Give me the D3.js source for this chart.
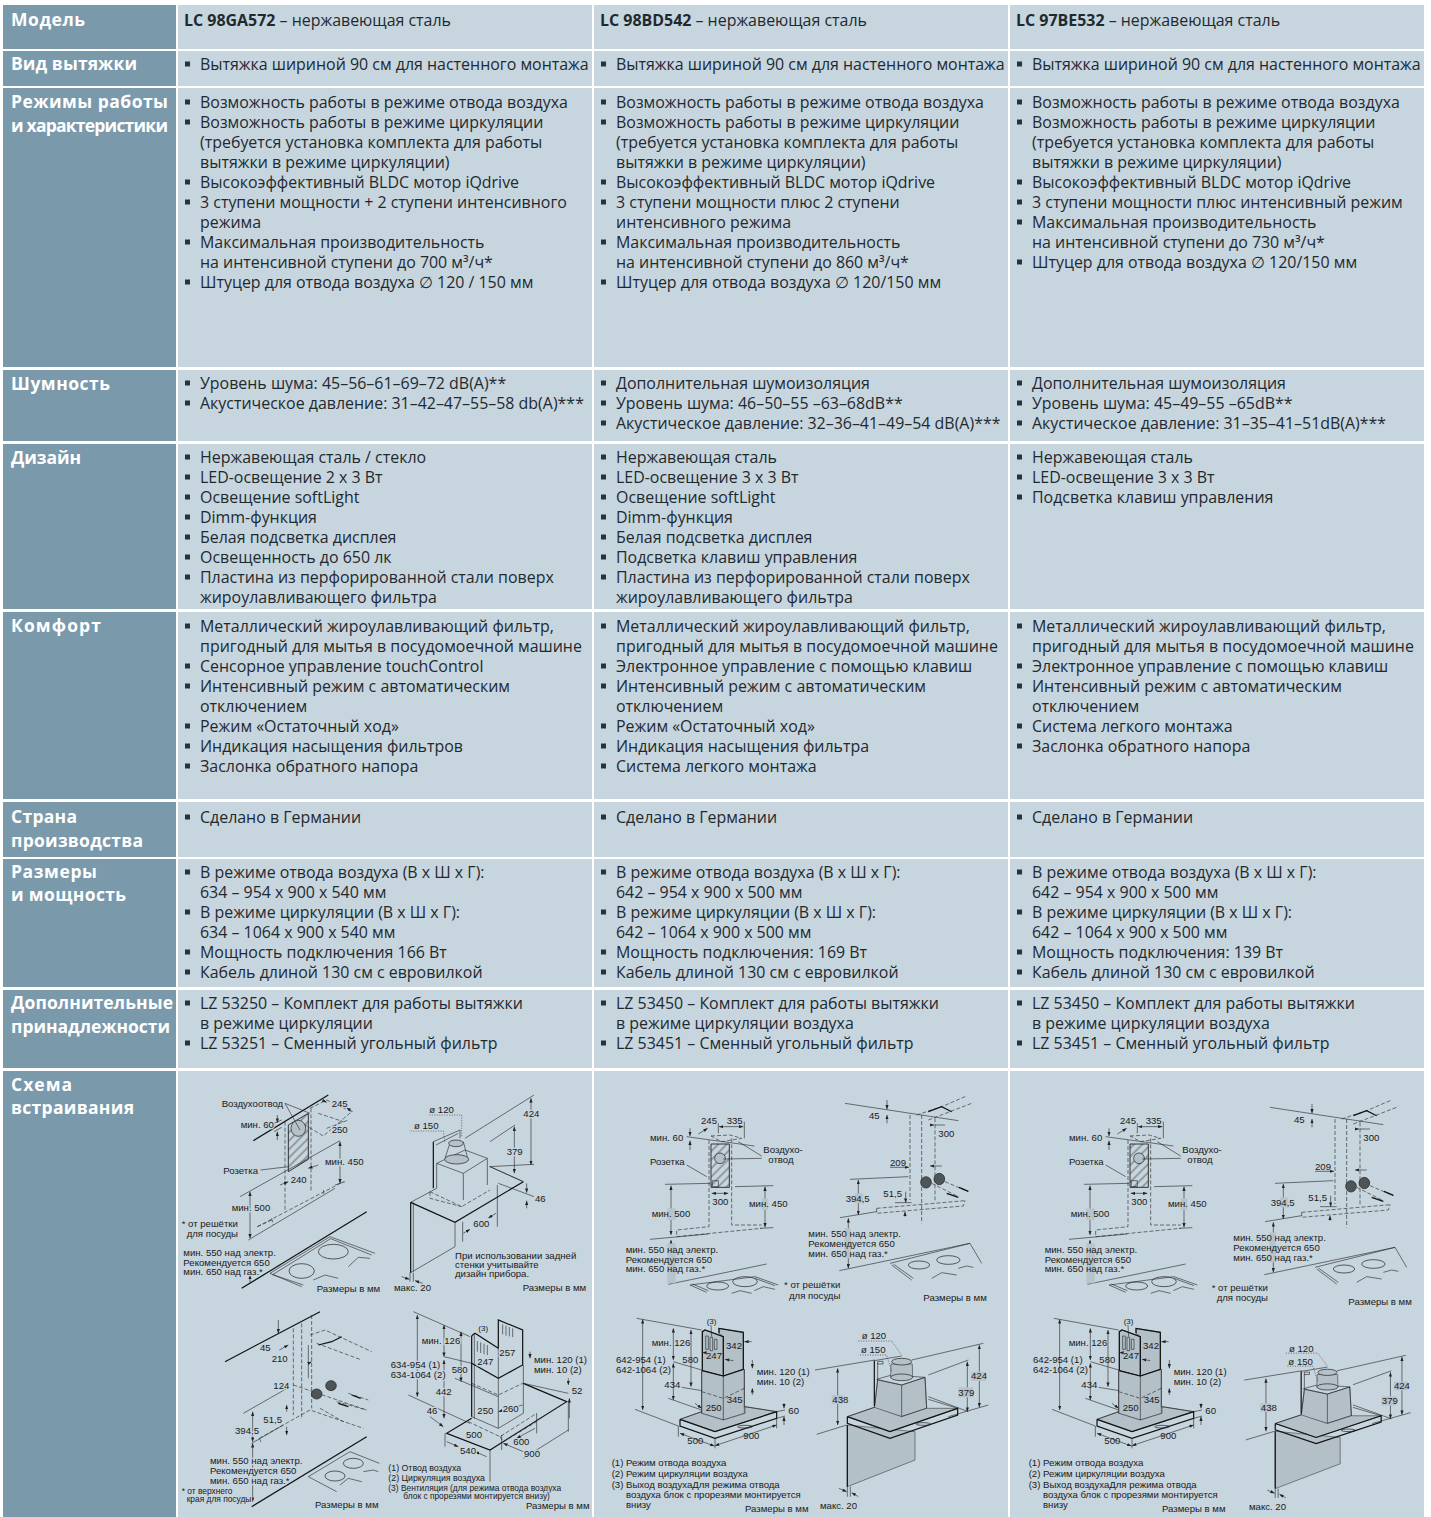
<!DOCTYPE html>
<html>
<head>
<meta charset="utf-8">
<script src="https://cdnjs.cloudflare.com/ajax/libs/d3/7.8.5/d3.min.js"></script>
<style>
  html, body { margin: 0; padding: 0; background: #fff; }
  svg { display: block; }
  .cell { font-family: "Open Sans", sans-serif; font-size: 15.95px; fill: #1e2a30; }
  .label { font-family: "Open Sans", sans-serif; font-size: 17.5px; font-weight: 700; fill: #fff; }
  .dia { font-family: "Liberation Sans", sans-serif; font-size: 9.6px; fill: #1a1a1a; }
</style>
</head>
<body>
<div id="chart"></div>
<script>
const rowLabels = [
  ['Модель'], ['Вид вытяжки'], ['Режимы работы', 'и характеристики'], ['Шумность'], ['Дизайн'],
  ['Комфорт'], ['Страна', 'производства'], ['Размеры', 'и мощность'],
  ['Дополнительные', 'принадлежности'], ['Схема', 'встраивания']
];
const models = ['LC 98GA572', 'LC 98BD542', 'LC 97BE532'];
const modelFinish = ' – нержавеющая сталь';

// "- " at the start of a line means it gets a bullet
const col1Rows = [
  ['- Вытяжка шириной 90 см для настенного монтажа'],
  ['- Возможность работы в режиме отвода воздуха', '- Возможность работы в режиме циркуляции', '(требуется установка комплекта для работы', 'вытяжки в режиме циркуляции)', '- Высокоэффективный BLDC мотор iQdrive', '- 3 ступени мощности + 2 ступени интенсивного', 'режима', '- Максимальная производительность', 'на интенсивной ступени до 700 м³/ч*', '- Штуцер для отвода воздуха ∅ 120 / 150 мм'],
  ['- Уровень шума: 45–56–61–69–72 dB(A)**', '- Акустическое давление: 31–42–47–55–58 db(A)***'],
  ['- Нержавеющая сталь / стекло', '- LED-освещение 2 x 3 Вт', '- Освещение softLight', '- Dimm-функция', '- Белая подсветка дисплея', '- Освещенность до 650 лк', '- Пластина из перфорированной стали поверх', 'жироулавливающего фильтра'],
  ['- Металлический жироулавливающий фильтр,', 'пригодный для мытья в посудомоечной машине', '- Сенсорное управление touchControl', '- Интенсивный режим с автоматическим', 'отключением', '- Режим «Остаточный ход»', '- Индикация насыщения фильтров', '- Заслонка обратного напора'],
  ['- Сделано в Германии'],
  ['- В режиме отвода воздуха (В x Ш x Г):', '634 – 954 x 900 x 540 мм', '- В режиме циркуляции (В x Ш x Г):', '634 – 1064 x 900 x 540 мм', '- Мощность подключения 166 Вт', '- Кабель длиной 130 см с евровилкой'],
  ['- LZ 53250 – Комплект для работы вытяжки', 'в режиме циркуляции', '- LZ 53251 – Сменный угольный фильтр']
];
const col2Rows = [
  ['- Вытяжка шириной 90 см для настенного монтажа'],
  ['- Возможность работы в режиме отвода воздуха', '- Возможность работы в режиме циркуляции', '(требуется установка комплекта для работы', 'вытяжки в режиме циркуляции)', '- Высокоэффективный BLDC мотор iQdrive', '- 3 ступени мощности плюс 2 ступени', 'интенсивного режима', '- Максимальная производительность', 'на интенсивной ступени до 860 м³/ч*', '- Штуцер для отвода воздуха ∅ 120/150 мм'],
  ['- Дополнительная шумоизоляция', '- Уровень шума: 46–50–55 –63–68dB**', '- Акустическое давление: 32–36–41–49–54 dB(A)***'],
  ['- Нержавеющая сталь', '- LED-освещение 3 x 3 Вт', '- Освещение softLight', '- Dimm-функция', '- Белая подсветка дисплея', '- Подсветка клавиш управления', '- Пластина из перфорированной стали поверх', 'жироулавливающего фильтра'],
  ['- Металлический жироулавливающий фильтр,', 'пригодный для мытья в посудомоечной машине', '- Электронное управление с помощью клавиш', '- Интенсивный режим с автоматическим', 'отключением', '- Режим «Остаточный ход»', '- Индикация насыщения фильтра', '- Система легкого монтажа'],
  ['- Сделано в Германии'],
  ['- В режиме отвода воздуха (В x Ш x Г):', '642 – 954 x 900 x 500 мм', '- В режиме циркуляции (В x Ш x Г):', '642 – 1064 x 900 x 500 мм', '- Мощность подключения: 169 Вт', '- Кабель длиной 130 см с евровилкой'],
  ['- LZ 53450 – Комплект для работы вытяжки', 'в режиме циркуляции воздуха', '- LZ 53451 – Сменный угольный фильтр']
];
const col3Rows = [
  ['- Вытяжка шириной 90 см для настенного монтажа'],
  ['- Возможность работы в режиме отвода воздуха', '- Возможность работы в режиме циркуляции', '(требуется установка комплекта для работы', 'вытяжки в режиме циркуляции)', '- Высокоэффективный BLDC мотор iQdrive', '- 3 ступени мощности плюс интенсивный режим', '- Максимальная производительность', 'на интенсивной ступени до 730 м³/ч*', '- Штуцер для отвода воздуха ∅ 120/150 мм'],
  ['- Дополнительная шумоизоляция', '- Уровень шума: 45–49–55 –65dB**', '- Акустическое давление: 31–35–41–51dB(A)***'],
  ['- Нержавеющая сталь', '- LED-освещение 3 x 3 Вт', '- Подсветка клавиш управления'],
  ['- Металлический жироулавливающий фильтр,', 'пригодный для мытья в посудомоечной машине', '- Электронное управление с помощью клавиш', '- Интенсивный режим с автоматическим', 'отключением', '- Система легкого монтажа', '- Заслонка обратного напора'],
  ['- Сделано в Германии'],
  ['- В режиме отвода воздуха (В x Ш x Г):', '642 – 954 x 900 x 500 мм', '- В режиме циркуляции (В x Ш x Г):', '642 – 1064 x 900 x 500 мм', '- Мощность подключения: 139 Вт', '- Кабель длиной 130 см с евровилкой'],
  ['- LZ 53450 – Комплект для работы вытяжки', 'в режиме циркуляции воздуха', '- LZ 53451 – Сменный угольный фильтр']
];

// installation drawings: [kind, "x,y x,y ..."] at 3x
// s thin, t thick, d dashed, a arrows both ends, e arrow at end, g grey fill, h hatched, o ellipse "cx,cy rx,ry", c filled ellipse, b dark blob, p pale patch, v dotted
const draw1TL = [
  ['h','355,165 415,130 415,268 355,305 355,165'], ['c','385,175 22,24'],
  ['t','250,212 475,75'], ['d','345,155 345,420'], ['d','423,115 423,365'],
  ['d','420,115 470,90 545,125 460,198 405,165'], ['d','445,130 520,155'], ['d','470,175 535,150'],
  ['e','322,135 322,158'], ['e','322,210 322,185'], ['s','312,160 335,150'], ['s','312,185 335,172'],
  ['e','455,90 470,97'], ['e','548,125 530,113'], ['s','345,100 390,180'], ['s','345,100 420,130'],
  ['s','272,300 355,290'], ['s','210,380 510,212'], ['a','510,215 510,340'], ['s','495,345 525,335'],
  ['e','330,345 355,335'], ['e','445,285 415,295'], ['s','345,335 345,345'],
  ['d','262,470 520,335'], ['d','262,470 310,448'], ['d','305,445 310,465'], ['d','460,360 462,375'],
  ['s','235,510 495,355'], ['a','240,365 240,505'], ['t','215,655 590,425'], ['e','240,640 240,615'],
  ['s','300,610 480,500 615,550'], ['s','308,614 482,506 605,555'], ['s','300,610 395,650'], ['s','308,614 400,645'],
  ['o','490,545 45,22'], ['o','395,603 38,22'], ['s','535,590 565,562 600,565'], ['s','430,630 465,615 505,625']
];
const text1TL = [
  ['Воздухоотвод',155,102], ['мин. 60',212,165], ['245',485,102], ['250',485,180], ['Розетка',160,303],
  ['мин. 450',465,275], ['240',362,328], ['мин. 500',185,412], ['* от решётки',35,460], ['для посуды',50,490],
  ['мин. 550 над электр.',40,548], ['Рекомендуется 650',40,578], ['мин. 650 над газ.*',40,605], ['Размеры в мм',440,655]
];
const draw1TR = [
  ['s','885,205 1092,75'], ['s','958,290 1092,283'], ['a','1083,85 1083,285'], ['s','960,215 1035,165'],
  ['a','1033,170 1033,310'], ['s','960,290 1060,335'], ['s','985,340 1092,380'],
  ['s','790,215 870,180 870,205'], ['t','790,215 790,355'], ['s','798,225 865,190'],
  ['s','800,280 885,240 952,265 880,310 800,280'], ['s','880,310 880,390'], ['s','952,265 952,345'], ['s','800,280 800,355'],
  ['s','825,265 838,225'], ['s','893,265 880,215'], ['c','860,268 36,14'], ['c','858,220 22,10'], ['v','778,135 875,135 875,200'], ['v','722,183 820,183 825,220'],
  ['t','722,397 855,457 1060,335'], ['s','722,397 800,355'], ['s','960,290 1060,335'], ['d','780,365 875,410 960,360'], ['d','780,365 780,385 875,410'],
  ['t','722,397 722,608'], ['s','730,397 730,605'], ['s','722,608 855,530 855,457'],
  ['e','695,620 718,628'], ['e','758,640 735,632'], ['s','720,608 720,635'], ['s','730,608 730,635'],
  ['e','880,490 900,478'], ['e','978,430 955,444'], ['s','878,455 878,515'], ['s','982,345 982,470'],
  ['e','1070,340 1070,368'], ['e','1070,415 1070,392']
];
const text1TR = [
  ['ø 120',778,120], ['ø 150',732,167], ['424',1060,132], ['379',1010,245], ['46',1095,387], ['600',910,462],
  ['При использовании задней',855,557], ['стенки учитывайте',855,585], ['дизайн прибора.',855,612], ['макс. 20',672,652], ['Размеры в мм',1058,652]
];
const draw1BL = [
  ['t','165,200 450,50'], ['d','370,100 370,360'], ['d','395,85 395,370'], ['d','425,60 425,340'],
  ['e','325,75 325,115'], ['e','328,165 355,150'], ['e','415,205 425,200'], ['s','415,150 415,250'],
  ['s','220,355 360,275'], ['a','248,350 248,440'], ['a','248,445 248,620'], ['s','245,445 340,390'],
  ['d','268,430 420,345 580,400'], ['d','268,430 275,445'], ['d','420,120 465,105 605,170'], ['d','440,145 575,195'], ['d','370,270 590,345'],
  ['d','500,320 590,345'], ['d','535,295 595,315'], ['d','450,340 520,380'], ['t','545,300 572,310'], ['t','505,325 535,335'],
  ['t','445,150 485,140 515,125'], ['b','440,297 16,15'], ['b','483,272 16,15'], ['e','350,350 350,330'], ['e','350,395 350,420'],
  ['t','245,635 590,425'], ['s','415,545 540,470 628,505'], ['s','415,545 500,590'],
  ['o','550,505 30,15'], ['o','495,543 30,15'], ['s','510,570 535,550 575,560'], ['s','580,530 610,525 625,530']
];
const text1BL = [
  ['45',270,157], ['210',305,190], ['124',310,272], ['51,5',280,373], ['394,5',195,408],
  ['мин. 550 над электр.',120,497], ['Рекомендуется 650',120,527], ['мин. 650 над газ.*',120,557],
  ['* от верхнего',35,587,8.4], ['края для посуды',50,613,8.4], ['Размеры в мм',435,628]
];
const draw1BR = [
  ['s','730,50 900,125'], ['s','715,300 900,385'], ['a','742,60 742,305'], ['a','822,90 822,185'], ['a','822,195 822,370'], ['a','873,110 873,260'],
  ['s','822,185 905,205'], ['s','855,250 985,305'], ['e','780,365 820,395'],
  ['t','905,122 905,365'], ['s','913,118 913,370'], ['t','905,122 915,115 985,160'], ['t','985,160 985,75 1058,105 1058,210 985,250 905,205'],
  ['s','985,160 985,400'], ['s','1060,210 1060,355 985,400 905,365'],
  ['s','922,138 922,170'], ['s','932,142 932,174'], ['s','942,146 942,178'], ['s','952,150 952,180'],
  ['s','998,88 998,118'], ['s','1008,92 1008,122'], ['s','1018,96 1018,124'], ['s','1028,100 1028,126'],
  ['d','905,265 985,300 1058,265'],
  ['t','905,370 830,415 960,465 1190,320 1060,265'], ['d','895,380 990,425 1100,355'], ['d','990,425 1000,440 1100,380'],
  ['s','825,415 825,455'], ['s','960,465 960,560'], ['e','830,440 865,455'], ['e','950,485 915,470'],
  ['e','1060,470 1000,445'], ['e','1095,400 1040,430'], ['s','1100,355 1100,415'], ['s','995,420 995,465'],
  ['e','1080,170 1080,190'], ['e','1195,250 1195,270'], ['e','1198,370 1198,310'], ['s','1060,490 1195,405'], ['s','1195,320 1195,410'],
  ['e','1058,330 985,350'], ['s','1060,265 1195,295']
];
const text1BR = [
  ['(3)',925,100,8], ['мин. 126',755,138], ['634-954 (1)',662,210], ['634-1064 (2)',662,240], ['580',845,225], ['247',922,200], ['257',988,172],
  ['мин. 120 (1)',1092,195], ['мин. 10 (2)',1092,225], ['52',1205,287], ['442',797,290], ['250',922,347], ['260',998,340], ['46',770,347],
  ['500',888,420], ['600',1030,440], ['540',870,468], ['900',1062,476],
  ['(1) Отвод воздуха',655,519,8.8], ['(2) Циркуляция воздуха',655,548,8.8], ['(3) Вентиляция (для режима отвода воздуха',655,578,8.4],
  ['блок с прорезями монтируется внизу)',700,604,8.4], ['Размеры в мм',1068,632]
];
const draw2TL = [
  ['s','275,170 478,198'], ['s','210,313 345,310'], ['s','420,320 535,317'], ['s','165,478 340,462'], ['s','495,445 535,443'],
  ['h','348,192 403,192 403,322 348,322 348,192'], ['c','375,235 16,16'], ['s','352,302 370,302 370,320 352,320 352,302'],
  ['d','342,180 342,440 245,450 245,470'], ['d','410,175 410,435 500,435'], ['d','245,470 500,445'],
  ['d','348,168 405,165 440,175 380,185 348,168'], ['e','310,162 338,145'], ['a','372,140 445,140'], ['s','370,130 370,160'], ['s','448,125 448,175'],
  ['e','285,145 285,168'], ['e','285,210 285,182'], ['s','275,255 335,290'], ['s','385,237 500,235'], ['s','430,185 500,228'],
  ['a','350,340 400,340'], ['a','510,320 510,442'], ['a','228,317 228,465'], ['a','228,480 228,610'],
  ['s','220,613 515,552'], ['s','285,615 480,590 550,615'], ['s','285,615 335,637'], ['s','292,612 340,632'], ['s','480,595 540,617'],
  ['o','368,618 33,12'], ['o','450,605 37,15'], ['s','410,640 435,632 470,640'], ['s','478,632 505,620 540,628'],
  ['p','217,385 242,385 242,420 217,420'], ['p','500,355 520,355 520,390 500,390'], ['p','217,490 242,490 242,610 217,610']
];
const text2TL = [
  ['245',318,122], ['335',395,122], ['мин. 60',165,172], ['Воздухо-',505,210], ['отвод',520,240], ['Розетка',165,245], ['300',352,365],
  ['мин. 450',462,372], ['мин. 500',170,402], ['мин. 550 над электр.',92,509], ['Рекомендуется 650',92,538], ['мин. 650 над газ.*',92,566]
];
const foot2 = [['* от решётки',567,615], ['для посуды',582,647]];
const foot3 = [['* от решётки',593,622], ['для посуды',608,652]];
const draw2TR = [
  ['s','750,70 1090,122'], ['e','876,60 876,88'], ['e','876,130 876,105'],
  ['d','945,105 945,360'], ['d','980,105 980,430'], ['d','1020,115 1020,365'],
  ['d','965,105 1040,80 1115,48'], ['d','1000,120 1135,68'], ['t','1000,95 1040,80 1070,95'],
  ['e','1005,135 1018,135'], ['s','1020,135 1050,135'], ['e','885,262 942,262'], ['e','1040,258 1005,258'],
  ['b','993,307 16,17'], ['b','1033,297 16,17'], ['d','1010,310 1090,350'], ['d','1050,305 1120,335'], ['t','1092,322 1120,334'], ['t','1055,340 1090,352'],
  ['s','765,298 940,290'], ['s','735,413 845,395'], ['d','845,385 1110,362'], ['d','845,385 845,400 1105,378 1110,362'],
  ['a','790,300 790,405'], ['e','932,335 932,368'], ['s','900,368 950,368'], ['e','930,410 930,395'],
  ['a','760,415 760,565'], ['s','733,572 1125,490'], ['s','885,550 1125,490 1160,550'], ['s','890,555 950,600'], ['s','895,552 955,595'],
  ['o','972,555 32,12'], ['o','1060,540 35,13'], ['s','1010,595 1040,578 1085,585'], ['s','1090,565 1115,558 1135,562'],
  ['p','748,445 768,445 768,535 748,535'], ['p','780,340 805,340 805,370 780,370']
];
const text2TR = [
  ['45',822,108], ['300',1030,160], ['209',885,248], ['51,5',865,340], ['394,5',752,355],
  ['мин. 550 над электр.',640,462], ['Рекомендуется 650',640,492], ['мин. 650 над газ.*',640,520], ['Размеры в мм',985,653]
];
const draw2BL = [
  ['s','125,55 320,90'], ['s','120,328 250,378'], ['s','235,185 320,210'], ['s','220,295 320,330'], ['s','260,262 322,272'],
  ['a','143,58 143,330'], ['a','235,85 235,180'], ['a','235,190 235,300'], ['a','288,90 288,260'],
  ['g','322,95 330,90 385,110 385,228 322,212 322,95'], ['g','385,110 372,100 372,85 445,97 445,208 385,228 385,110'],
  ['g','320,212 385,228 448,208 448,340 385,360 320,340 320,212'], ['g','255,358 320,335 320,340 385,360 450,340 450,320 545,335 360,395 255,358'],
  ['t','322,212 322,95 330,90 385,110 385,228 322,212'], ['t','385,228 445,208 445,97 372,85 372,100'], ['s','385,228 385,360'],
  ['s','320,212 320,340'], ['s','448,208 448,322'], ['d','320,275 385,295 448,265'],
  ['t','255,358 255,378 360,415 545,355 545,335 360,395 255,358'], ['s','255,358 320,335'], ['s','450,320 545,335'], ['o','450,380 22,4'],
  ['s','332,108 340,108 340,148 332,148 332,108'], ['s','345,112 353,112 353,152 345,152 345,112'], ['s','358,118 366,118 366,148 358,148 358,118'], ['s','348,75 350,110'],
  ['a','255,400 358,438'], ['a','360,437 545,375'], ['s','250,378 250,410'], ['s','360,415 360,445'], ['s','545,355 545,385'],
  ['e','567,310 567,325'], ['e','567,375 567,350'], ['s','545,335 570,330'], ['s','545,355 570,348'],
  ['e','472,180 472,205'], ['e','472,285 472,265'], ['e','470,125 448,125'], ['e','325,158 322,158'], ['e','415,182 390,178'], ['e','300,310 320,325']
];
const text2BL = [
  ['(3)',335,62,8], ['мин. 126',170,128], ['642-954 (1)',63,180], ['642-1064 (2)',63,208], ['580',262,178], ['247',333,168], ['342',393,136],
  ['мин. 120 (1)',485,215], ['мин. 10 (2)',485,245], ['434',208,253], ['345',395,298], ['250',332,323], ['60',580,333], ['500',277,422], ['900',445,407],
  ['(1) Режим отвода воздуха',50,488], ['(2) Режим циркуляции воздуха',50,520], ['(3) Выход воздухаДля режима отвода',50,553],
  ['воздуха блок с прорезями монтируется',93,584], ['внизу',93,613], ['Размеры в мм',450,625]
];
const draw2BR = [
  ['s','660,210 840,180'], ['s','665,403 755,375'], ['s','950,180 1165,130'], ['s','1000,225 1120,180'], ['s','1060,350 1180,315'], ['s','1000,290 1120,335'],
  ['a','728,205 728,375'], ['a','1153,135 1153,322'], ['a','1117,185 1117,335'],
  ['g','757,375 960,395 960,480 757,560 757,375'], ['g','848,240 920,255 990,232 995,325 920,350 838,325 848,240'],
  ['s','838,182 920,168'], ['t','838,182 838,318'], ['s','848,190 848,238'], ['s','845,238 890,225 990,232 920,255 845,238'], ['s','920,255 920,350'], ['s','848,240 838,325'], ['s','990,232 995,325 920,350'],
  ['g','888,192 952,192 953,232 887,232 888,192'], ['c','920,185 30,10'], ['c','920,232 33,10'], ['s','848,184 864,184 864,192 848,192 848,184'],
  ['g','757,350 838,322 920,350 995,325 1088,325 885,395 757,350'], ['t','757,350 757,370 885,415 1088,345 1088,325 885,395 757,350'], ['s','838,322 757,350'], ['s','1000,298 1088,325'], ['o','985,372 22,4'],
  ['e','732,565 755,575'], ['e','790,590 770,578'], ['s','757,560 757,590'], ['s','766,560 766,590'], ['t','757,375 757,560'],
  ['v','790,123 890,123 920,165'], ['v','795,165 875,165 890,215'],
  ['p','1128,215 1172,215 1172,243 1128,243'], ['p','1090,262 1135,262 1135,292 1090,292'], ['p','710,285 745,285 745,312 710,312']
];
const text2BR = [['ø 120',800,108], ['ø 150',798,149], ['424',1128,228], ['379',1090,277], ['438',712,298], ['макс. 20',675,618]];

// layout
const width = 1431, height = 1517;
const rowTop = [5, 51, 88, 370, 444, 612, 802, 859, 990, 1071];
const rowEnd = [49, 86, 367, 441, 609, 799, 857, 987, 1068, 1517];
const lineStep = 20;
const firstLine = [20, 64, 102, 383, 457, 626, 817, 872, 1003, 0];
const labelLine = [20, 64, 102, 384, 458, 626, 817, 872, 1003, 1085];
const labelStep = [0, 0, 24, 0, 0, 0, 24, 23, 24, 23];
const labelWidth = [[74], [126], [157, 157], [99], [70], [90], [66, 132], [86, 115], [162, 159], [61, 123]];
const colX = d3.scaleBand().domain(d3.range(3)).range([178, 1426]).paddingInner(0);

const svg = d3.select('#chart').append('svg').attr('width', width).attr('height', height);
const defs = svg.append('defs');
defs.append('marker').attr('id', 'arr').attr('viewBox', '0 0 8 6').attr('refX', 8).attr('refY', 3)
  .attr('markerWidth', 4.6).attr('markerHeight', 3.2).attr('markerUnits', 'userSpaceOnUse').attr('orient', 'auto-start-reverse')
  .append('path').attr('d', 'M0,0L8,3L0,6Z').attr('fill', '#222');
const hatch = defs.append('pattern').attr('id', 'hatch').attr('width', 6).attr('height', 6)
  .attr('patternUnits', 'userSpaceOnUse').attr('patternTransform', 'rotate(-45)');
hatch.append('line').attr('x1', 0).attr('x2', 6).attr('y1', 3).attr('y2', 3).attr('stroke', '#333').attr('stroke-width', 0.7);

// table backgrounds
svg.selectAll('.lab').data(rowLabels).join('rect').attr('class', 'lab')
  .attr('x', 3).attr('width', 173).attr('y', (d, i) => rowTop[i]).attr('height', (d, i) => rowEnd[i] - rowTop[i]).attr('fill', '#7a99ab');
d3.range(3).forEach(c => {
  svg.selectAll('.bg' + c).data(rowLabels).join('rect').attr('class', 'bg' + c)
    .attr('x', colX(c)).attr('width', colX.bandwidth() - 2).attr('y', (d, i) => rowTop[i]).attr('height', (d, i) => rowEnd[i] - rowTop[i]).attr('fill', '#c7d5de');
});

rowLabels.forEach((lines, r) => {
  svg.append('g').selectAll('text').data(lines).join('text').attr('class', 'label')
    .attr('x', 11).attr('y', (d, i) => labelLine[r] + i * labelStep[r]).attr('dy', '.36em')
    .attr('textLength', (d, i) => labelWidth[r][i]).attr('lengthAdjust', 'spacing').text(d => d);
});

// header row
models.forEach((m, c) => {
  const t = svg.append('text').attr('class', 'cell').attr('x', colX(c) + 6).attr('y', firstLine[0]).attr('dy', '.36em');
  t.append('tspan').attr('font-weight', 700).text(m);
  t.append('tspan').text(modelFinish);
});

[col1Rows, col2Rows, col3Rows].forEach((rows, c) => {
  rows.forEach((lines, k) => {
    const r = k + 1;
    const g = svg.append('g');
    g.selectAll('text').data(lines).join('text').attr('class', 'cell')
      .attr('x', colX(c) + 22).attr('y', (d, i) => firstLine[r] + i * lineStep).attr('dy', '.36em')
      .text(d => d.replace(/^- /, ''));
    g.selectAll('rect').data(lines.map((d, i) => [d, i]).filter(d => d[0].startsWith('- '))).join('rect')
      .attr('x', colX(c) + 7).attr('y', d => firstLine[r] + d[1] * lineStep - 2.5).attr('width', 5).attr('height', 5).attr('fill', '#26343b');
  });
});

// one drawing panel: zoom coordinates mapped to the page through linear scales
function panel(shapes, labels, x0, y0, kx, ky, halo) {
  const sx = d3.scaleLinear().domain([0, 1]).range([x0, x0 + kx / 3]);
  const sy = d3.scaleLinear().domain([0, 1]).range([y0, y0 + ky / 3]);
  const line = d3.line().x(d => sx(d[0])).y(d => sy(d[1]));
  const g = svg.append('g');
  shapes.forEach(([kind, str]) => {
    const p = str.split(' ').map(s => s.split(',').map(Number));
    if (kind === 'o' || kind === 'b' || kind === 'c') {
      g.append('ellipse').attr('cx', sx(p[0][0])).attr('cy', sy(p[0][1]))
        .attr('rx', p[1][0] * kx / 3).attr('ry', p[1][1] * ky / 3)
        .attr('fill', kind === 'b' ? '#4d5559' : kind === 'c' ? '#b4c1c9' : 'none').attr('stroke', '#222').attr('stroke-width', 0.7);
      return;
    }
    const e = g.append('path').attr('d', line(p)).attr('fill', 'none').attr('stroke', '#222').attr('stroke-width', 0.6);
    if (kind === 't') e.attr('stroke-width', 1.2).attr('stroke', '#111');
    if (kind === 'd') e.attr('stroke-dasharray', '4,2');
    if (kind === 'v') e.attr('stroke-dasharray', '1,1.5');
    if (kind === 'a') e.attr('marker-start', 'url(#arr)').attr('marker-end', 'url(#arr)');
    if (kind === 'e') e.attr('marker-end', 'url(#arr)');
    if (kind === 'g') e.attr('fill', '#b3c0c8').attr('stroke-width', 0.5);
    if (kind === 'h') e.attr('fill', 'url(#hatch)').attr('stroke-width', 0.9);
    if (kind === 'p') e.attr('fill', '#b8c4cb').attr('stroke', 'none');
  });
  const t = g.selectAll('text').data(labels).join('text').attr('class', 'dia')
    .attr('x', d => sx(d[1])).attr('y', d => sy(d[2])).attr('dy', '.36em')
    .style('font-size', d => (d[3] || 9.6) + 'px').text(d => d[0]);
  // the first column breaks its dimension lines around the numbers
  if (halo) t.style('paint-order', 'stroke').attr('stroke', '#c7d5de').attr('stroke-width', 2.5);
}

panel(draw1TL, text1TL, 170, 1070, 1, 1, true);
panel(draw1TR, text1TR, 170, 1070, 1, 1, true);
panel(draw1BL, text1BL, 170, 1295, 1, 1, true);
panel(draw1BR, text1BR, 170, 1295, 1, 1, true);

panel(draw2TL, text2TL.concat(foot2), 595, 1080, 1, 1);
panel(draw2TR, text2TR, 595, 1080, 1, 1);
panel(draw2BL, text2BL, 595, 1300, 1, 1);
panel(draw2BR, text2BR, 595, 1300, 1, 1);

panel(draw2TL, text2TL.concat(foot3), 1014, 1080, 1, 1);
panel(draw2TR, text2TR, 1020, 1084, 1, 1);
panel(draw2BL, text2BL, 1012, 1300, 1, 1);
panel(draw2BR, text2BR, 1033, 1315, 0.96, 0.93);
</script>
</body>
</html>
